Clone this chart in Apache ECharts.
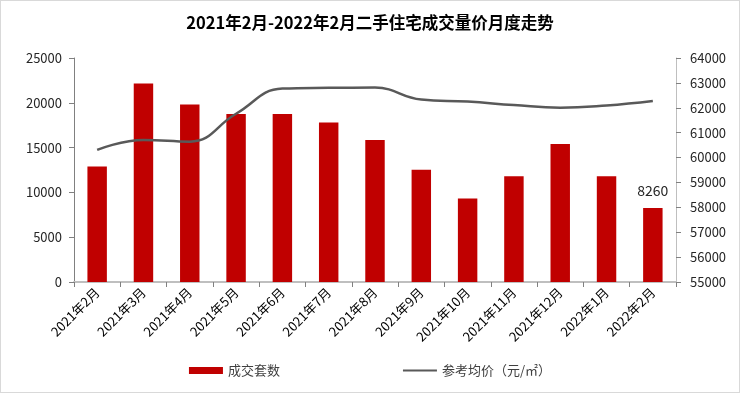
<!DOCTYPE html>
<html>
<head>
<meta charset="utf-8">
<script src="https://cdn.jsdelivr.net/npm/echarts@6/dist/echarts.min.js"></script>
<style>
html,body{margin:0;padding:0;background:#fff;}
#c{width:740px;height:393px;box-sizing:border-box;border:1px solid #d9d9d9;}
</style>
</head>
<body>
<div id="c"></div>
<script>
var categories = ['2021年2月','2021年3月','2021年4月','2021年5月','2021年6月','2021年7月','2021年8月','2021年9月','2021年10月','2021年11月','2021年12月','2022年1月','2022年2月'];
var volume = [12900, 22150, 19820, 18750, 18750, 17790, 15840, 12520, 9310, 11810, 15400, 11810, 8260];
var price = [60310, 60710, 60640, 61760, 62770, 62800, 62810, 62330, 62250, 62110, 62000, 62090, 62270];
var leftTicks = {min: 0, max: 25000, interval: 5000};
var rightTicks = {min: 55000, max: 64000, interval: 1000};

var FONT = '"Noto Sans CJK SC", "Noto Sans", sans-serif';
var plain = function (v) { return String(v); };
var chart = echarts.init(document.getElementById('c'), null, {renderer: 'canvas'});
chart.setOption({
  animation: false,
  textStyle: {fontFamily: FONT},
  title: {
    text: '2021年2月-2022年2月二手住宅成交量价月度走势',
    left: 'center', top: 8,
    textStyle: {fontSize: 16.5, fontWeight: 'bold', color: '#000', fontFamily: FONT}
  },
  legend: {
    bottom: 10, left: 'center', itemGap: 122,
    itemWidth: 34, itemHeight: 7,
    textStyle: {fontSize: 13, color: '#404040', fontFamily: FONT},
    data: [
      {name: '成交套数', icon: 'rect'},
      {name: '参考均价（元/㎡）', itemStyle: {color: 'transparent', borderWidth: 0, opacity: 0}}
    ]
  },
  grid: {left: 73, right: 63, top: 57, bottom: 110},
  xAxis: {
    type: 'category', data: categories,
    axisLine: {lineStyle: {color: '#bfbfbf', width: 2}},
    axisTick: {show: true, length: 5, lineStyle: {color: '#808080'}},
    axisLabel: {rotate: 45, fontSize: 13, color: '#000', margin: 8, interval: 0, fontFamily: FONT}
  },
  yAxis: [
    {
      type: 'value', min: leftTicks.min, max: leftTicks.max, interval: leftTicks.interval,
      axisLine: {show: true, lineStyle: {color: '#808080'}},
      axisTick: {show: true, length: 5},
      splitLine: {show: false},
      axisLabel: {fontSize: 13, color: '#262626', margin: 12, fontFamily: FONT, formatter: plain}
    },
    {
      type: 'value', min: rightTicks.min, max: rightTicks.max, interval: rightTicks.interval,
      position: 'right',
      axisLine: {show: true, lineStyle: {color: '#bfbfbf'}},
      axisTick: {show: true, length: 5, lineStyle: {color: '#808080'}},
      splitLine: {show: false},
      axisLabel: {fontSize: 13, color: '#262626', margin: 14, fontFamily: FONT, formatter: plain}
    }
  ],
  series: [
    {
      name: '成交套数', type: 'bar', yAxisIndex: 0,
      barWidth: '42%',
      itemStyle: {color: '#c00000'},
      data: volume.map(function (v, i) {
        return i === volume.length - 1
          ? {value: v, label: {show: true, position: 'top', distance: 10, fontSize: 14, color: '#262626', fontFamily: FONT}}
          : v;
      })
    },
    {
      name: '参考均价（元/㎡）', type: 'line', yAxisIndex: 1,
      smooth: 0.45, symbol: 'none', showSymbol: false,
      lineStyle: {color: '#595959', width: 2.5},
      itemStyle: {color: '#595959'},
      data: price
    }
  ]
});
</script>
</body>
</html>
